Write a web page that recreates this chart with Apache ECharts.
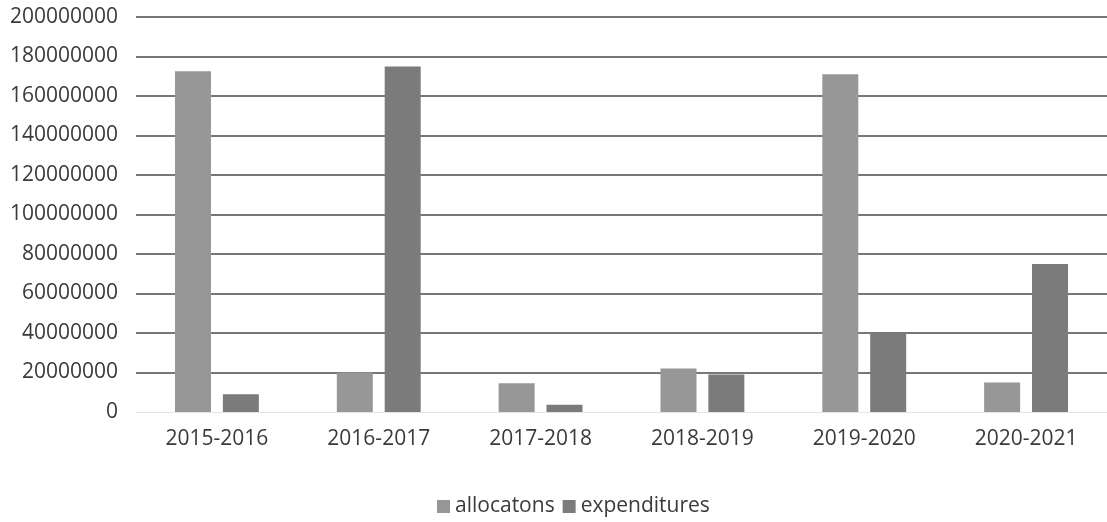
<!DOCTYPE html>
<html>
<head>
<meta charset="utf-8">
<script src="https://cdn.jsdelivr.net/npm/echarts@6/dist/echarts.min.js"></script>
<style>html,body{margin:0;padding:0;background:#fff;}#c{width:1107px;height:522px;}</style>
</head>
<body>
<div id="c"></div>
<script>
const categories = ['2015-2016','2016-2017','2017-2018','2018-2019','2019-2020','2020-2021'];
const allocations = [172500000, 20000000, 14500000, 22000000, 171000000, 15000000];
const expenditures = [9000000, 175000000, 3700000, 19000000, 40000000, 75000000];
const seriesNames = ['allocatons', 'expenditures'];

const chart = echarts.init(document.getElementById('c'));
const gridColors = ['rgba(0,0,0,0)'].concat(new Array(10).fill('#4a4a4a'));
chart.setOption({
  animation: false,
  backgroundColor: '#fff',
  textStyle: { fontFamily: 'Open Sans' },
  grid: { left: 136, width: 985, top: 17, bottom: 110, containLabel: false },
  legend: {
    data: seriesNames,
    bottom: 0,
    left: 432,
    itemWidth: 13, itemHeight: 13, itemGap: 8,
    icon: 'rect',
    textStyle: { fontSize: 21, color: '#3a3a3a', fontFamily: 'Open Sans' }
  },
  xAxis: {
    type: 'category',
    data: categories,
    axisLine: { show: true, lineStyle: { color: '#e4e4e4', width: 1 } },
    axisTick: { show: false },
    axisLabel: { fontSize: 21, color: '#3a3a3a', margin: 17, fontFamily: 'Open Sans' }
  },
  yAxis: {
    type: 'value',
    min: 0, max: 200000000, interval: 20000000,
    axisLine: { show: false },
    axisTick: { show: false },
    axisLabel: { fontSize: 21, color: '#3a3a3a', margin: 18, fontFamily: 'Open Sans',
      formatter: function (v) { return String(v); } },
    splitLine: { show: true, lineStyle: { color: gridColors, width: 1.5 } }
  },
  series: [
    { name: seriesNames[0], type: 'bar', data: allocations, barWidth: 36, barGap: '33%',
      itemStyle: { color: '#979797' } },
    { name: seriesNames[1], type: 'bar', data: expenditures, barWidth: 36,
      itemStyle: { color: '#7b7b7b' } }
  ]
});
</script>
</body>
</html>
